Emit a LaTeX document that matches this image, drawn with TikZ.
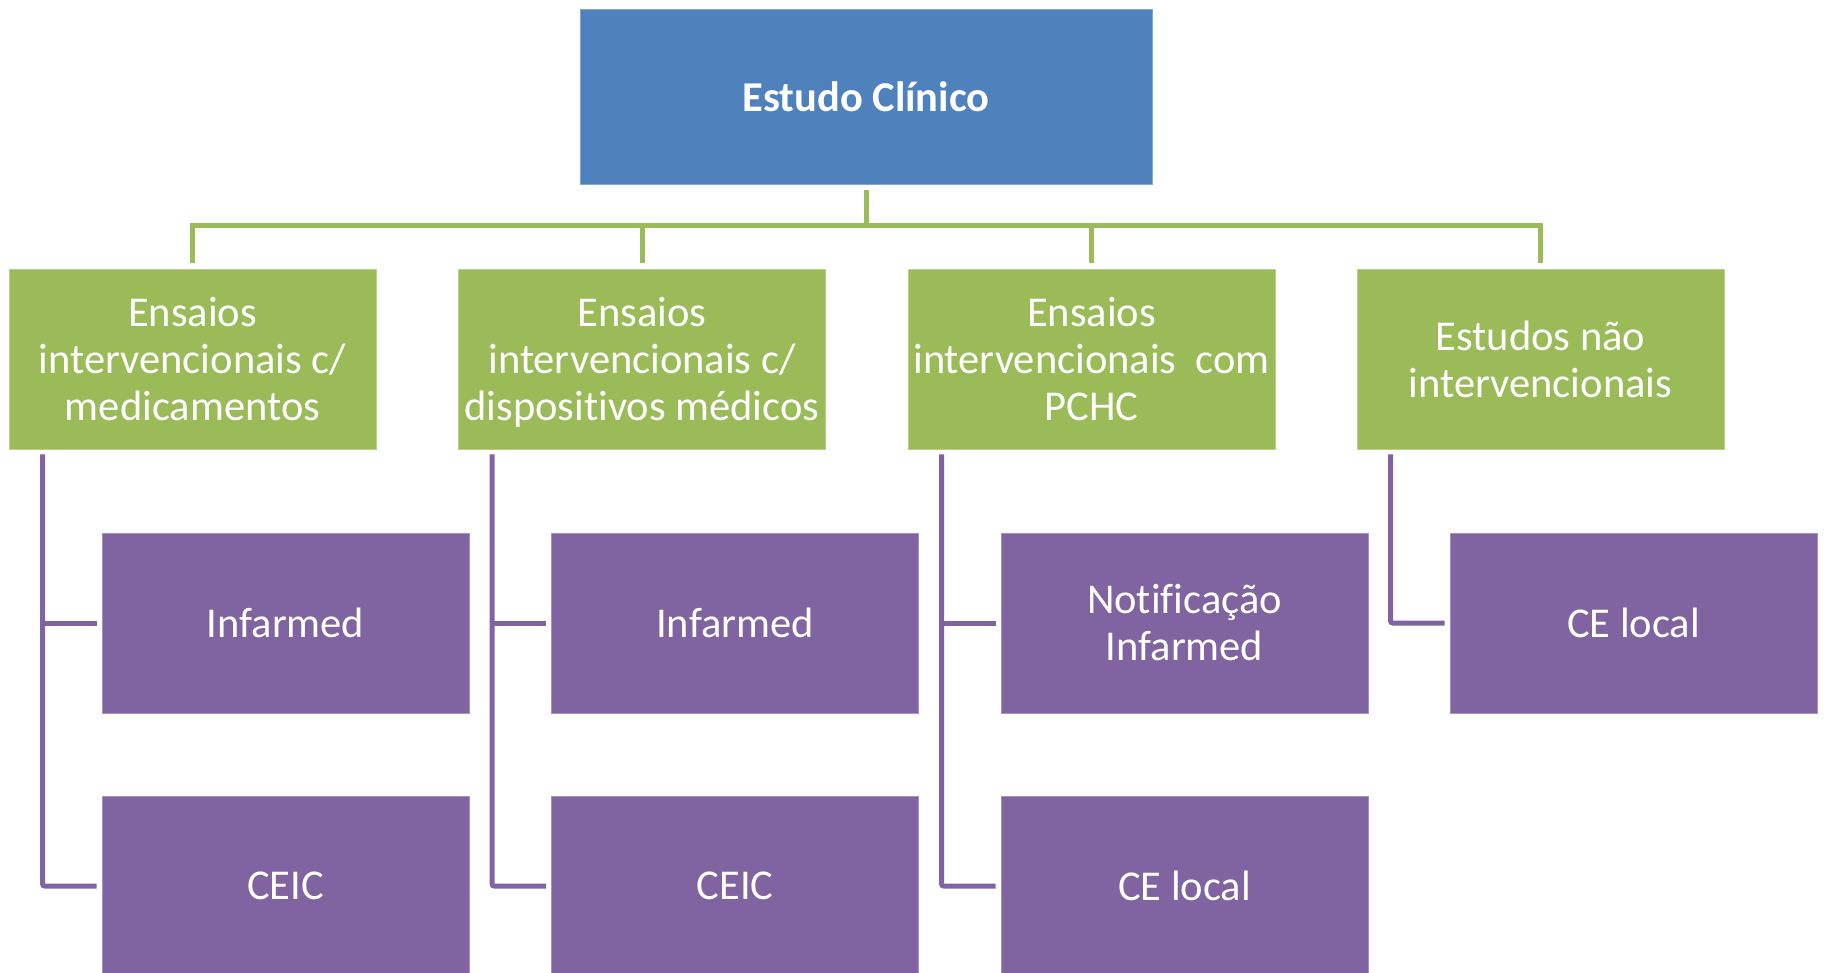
\documentclass[tikz,border=0pt]{standalone}
\usepackage{fontspec}
\setmainfont{Carlito}[Ligatures=NoCommon]
\definecolor{cblue}{HTML}{4F81BD}
\definecolor{cgreen}{HTML}{9BBB59}
\definecolor{cpurple}{HTML}{8064A2}
\begin{document}
\begin{tikzpicture}[x=1pt,y=-1pt,
  box/.style={rectangle, inner sep=0pt, minimum width=367pt, minimum height=180pt,
    align=center, text=white, font=\fontsize{42.5}{47}\selectfont, line width=0.8pt},
  gbox/.style={box, fill=cgreen, draw=cgreen!70!white},
  pbox/.style={box, fill=cpurple, draw=cpurple!70!white},
  gline/.style={draw=cgreen, line width=5pt},
  pline/.style={draw=cpurple, line width=5pt, rounded corners=2pt}]
\useasboundingbox (0,0) rectangle (1825,973);

\node[box, fill=cblue, draw=cblue!70!white, minimum width=572pt, minimum height=175pt,
  font=\fontsize{42.5}{47}\selectfont\bfseries] (root) at (866,96.5) {Estudo Clínico};

\node[gbox] (g1) at (192.5,359) {Ensaios\\intervencionais c/\\medicamentos};
\node[gbox] (g2) at (642,359) {Ensaios\\intervencionais c/\\\raisebox{0pt}[\height][0pt]{dispositivos médicos}};
\node[gbox] (g3) at (1091.5,359) {Ensaios\\intervencionais\space\space com\\PCHC};
\node[gbox] (g4) at (1540.5,359) {Estudos não\\intervencionais};

\node[pbox] (p11) at (285.5,623) {Infarmed};
\node[pbox] (p12) at (285.5,886) {CEIC};
\node[pbox] (p21) at (735,623) {Infarmed};
\node[pbox] (p22) at (735,886) {CEIC};
\node[pbox] (p31) at (1184.5,623) {Notificação\\Infarmed};
\node[pbox, text depth=0pt] (p32) at (1184.5,886) {CE local};
\node[pbox] (p41) at (1633.5,623) {CE local};

\coordinate (bar) at (0,226);
\draw[gline] ([yshift=-6pt]root.south) -- (root.south |- bar);
\draw[gline] ([yshift=6pt]g1.north) -- (g1.north |- bar) -- (g4.north |- bar) -- ([yshift=6pt]g4.north);
\draw[gline] ([yshift=6pt]g2.north) -- (g2.north |- bar);
\draw[gline] ([yshift=6pt]g3.north) -- (g3.north |- bar);

\foreach \c in {1,2,3,4} {
  \coordinate (v\c) at ([xshift=34pt,yshift=-5pt]g\c.south west);
}
\foreach \c in {1,2,3} {
  \draw[pline] (v\c) |- ([xshift=-5pt]p\c2.west);
  \draw[pline] (v\c |- p\c1.west) -- ([xshift=-5pt]p\c1.west);
}
\draw[pline] (v4) |- ([xshift=-5pt]p41.west);
\end{tikzpicture}
\end{document}
